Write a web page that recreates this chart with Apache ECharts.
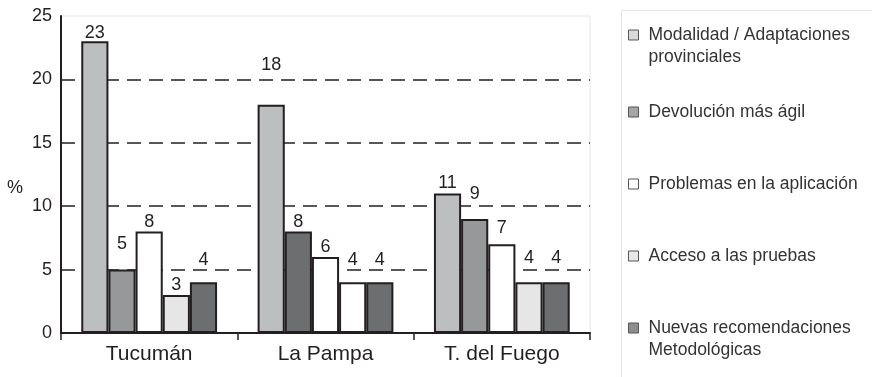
<!DOCTYPE html>
<html>
<head>
<meta charset="utf-8">
<script src="https://cdn.jsdelivr.net/npm/echarts@6/dist/echarts.min.js"></script>
<style>
  html, body { margin: 0; padding: 0; background: #fff; }
  #chart { width: 872px; height: 377px; }
</style>
</head>
<body>
<div id="chart"></div>
<script>
// Provinces on the x axis
const provinces = ['Tucumán', 'La Pampa', 'T. del Fuego'];

// Series names (legend order)
const seriesNames = [
  'Modalidad / Adaptaciones\nprovinciales',
  'Devolución más ágil',
  'Problemas en la aplicación',
  'Acceso a las pruebas',
  'Nuevas recomendaciones\nMetodológicas'
];

// Percentages per series, one value per province
const modalidad   = [23, 18, 11];
const devolucion  = [5, 8, 9];
const problemas   = [8, 6, 7];
const acceso      = [3, 4, 4];
const nuevas      = [4, 4, 4];

// Y axis ticks
const yTicks = [0, 5, 10, 15, 20, 25];

const seriesValues = [modalidad, devolucion, problemas, acceso, nuevas];

// Fill colours per series, with per-province overrides
const fills = ['#bcbec0', '#97989a', '#ffffff', '#e5e6e5', '#6d6e70'];
const fillOverrides = { '1-1': '#6d6e70', '3-1': '#ffffff' };
// Extra vertical lift of individual value labels (px)
const labelLift = {
  '0-0': -2, '1-0': 16, '4-0': 12,
  '0-1': 30, '3-1': 12, '4-1': 12,
  '1-2': 15, '2-2': 6, '3-2': 14, '4-2': 14
};
const legendFills = ['#d9d9d9', '#a6a6a6', '#ffffff', '#e8e8e8', '#8e8e8e'];
const legendTops = [35, 112, 184, 256, 328];

const FONT = '"Liberation Sans", Arial, Helvetica, sans-serif';

const series = seriesValues.map((vals, si) => ({
  name: seriesNames[si],
  type: 'bar',
  barGap: '0%',
  barCategoryGap: '23%',
  itemStyle: { color: fills[si], borderColor: '#231f20', borderWidth: 2 },
  label: {
    show: true,
    position: 'top',
    distance: 1,
    color: '#231f20',
    fontSize: 18,
    fontFamily: FONT
  },
  data: vals.map((v, ci) => {
    const key = si + '-' + ci;
    const d = { value: v };
    if (fillOverrides[key]) d.itemStyle = { color: fillOverrides[key] };
    if (labelLift[key]) d.label = { offset: [0, -labelLift[key]] };
    return d;
  })
}));

// One legend block per series so each entry can sit at its own height;
// two-line entries get a blank leading line so the swatch lines up with
// the first line of text.
const legends = seriesNames.map((name, i) => {
  const twoLines = name.indexOf('\n') >= 0;
  return {
    data: [{ name: name, itemStyle: { color: legendFills[i], borderColor: '#555', borderWidth: 1 } }],
    icon: 'rect',
    left: 628,
    top: legendTops[i] - (twoLines ? 33 : 11),
    padding: 0,
    itemWidth: 10,
    itemHeight: 10,
    selectedMode: false,
    formatter: twoLines ? (n) => '\n' + n : '{name}',
    textStyle: {
      color: '#333',
      fontSize: 17.5,
      fontFamily: FONT,
      lineHeight: 22,
      padding: [0, 0, 0, 5]
    }
  };
});

const chart = echarts.init(document.getElementById('chart'), null, { renderer: 'canvas' });
chart.setOption({
  animation: false,
  backgroundColor: '#ffffff',
  graphic: [{
    type: 'rect',
    shape: { x: 621.5, y: 10.5, width: 260, height: 380 },
    style: { fill: 'none', stroke: '#e6e6e6', lineWidth: 1 },
    silent: true
  }],
  legend: legends,
  grid: {
    left: 61, right: 282, top: 16, bottom: 44,
    show: true, borderColor: '#e6e6e6', borderWidth: 1,
    containLabel: false
  },
  xAxis: {
    type: 'category',
    data: provinces,
    axisLine: { lineStyle: { color: '#231f20', width: 2 } },
    axisTick: { show: true, length: 7, lineStyle: { color: '#231f20', width: 1.5 } },
    axisLabel: { color: '#231f20', fontSize: 21, fontFamily: FONT, margin: 11 },
    splitLine: { show: false }
  },
  yAxis: {
    type: 'value',
    min: yTicks[0],
    max: yTicks[yTicks.length - 1],
    interval: yTicks[1] - yTicks[0],
    name: '%',
    nameLocation: 'middle',
    nameRotate: 0,
    nameGap: 38,
    nameTextStyle: {
      color: '#231f20', fontSize: 18, fontFamily: FONT,
      verticalAlign: 'top', lineHeight: 28
    },
    axisLine: { show: true, lineStyle: { color: '#231f20', width: 2 } },
    axisTick: { show: false },
    axisLabel: { color: '#231f20', fontSize: 18, fontFamily: FONT, margin: 9 },
    splitLine: {
      show: true,
      lineStyle: {
        color: ['#231f20', '#231f20', '#231f20', '#231f20', '#231f20', 'rgba(0,0,0,0)'],
        width: 1.5,
        type: [14, 8]
      }
    }
  },
  series: series
});
</script>
</body>
</html>
